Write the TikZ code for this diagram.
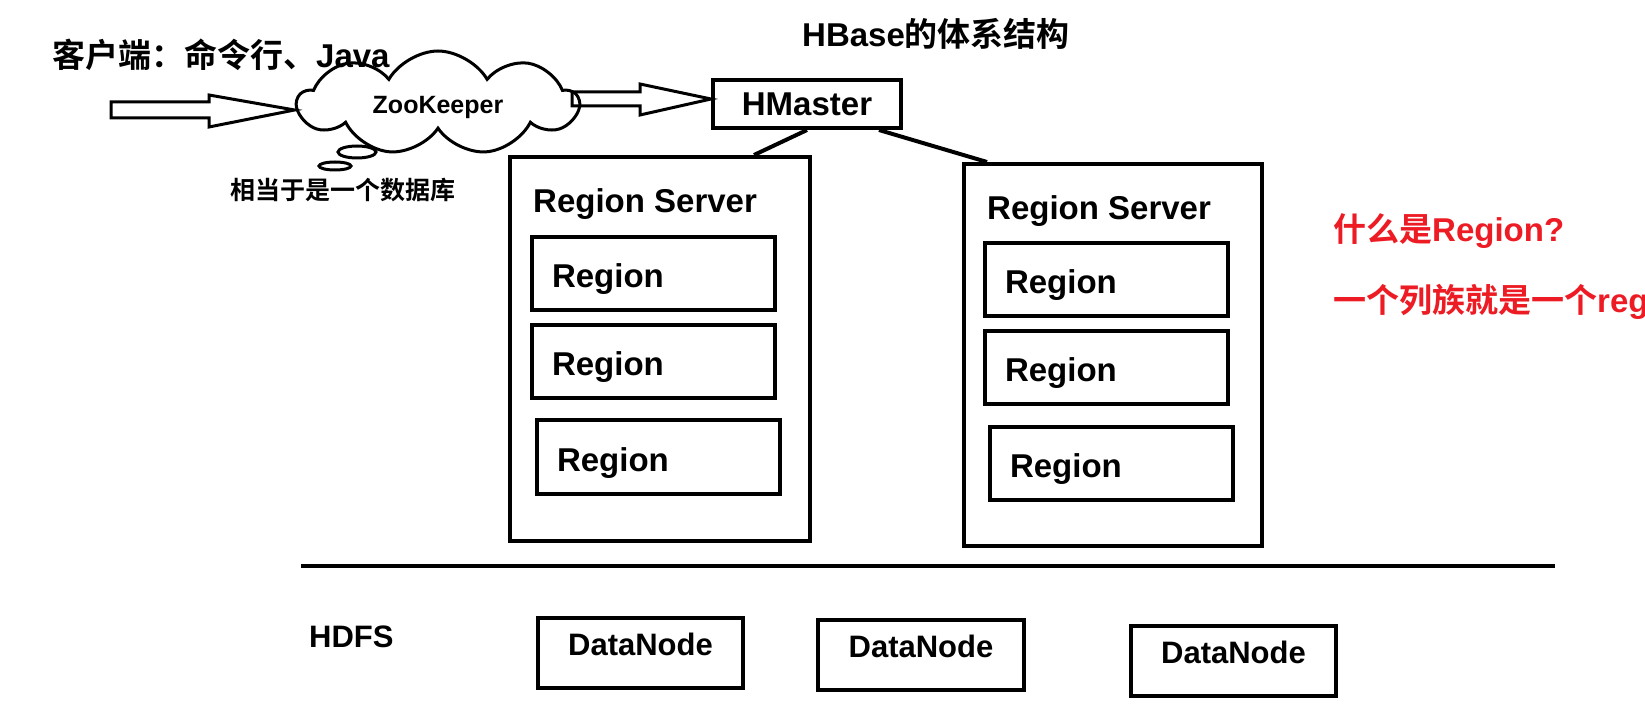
\documentclass[tikz,border=0pt]{standalone}
\usepackage{fontspec}
\setmainfont{Liberation Sans}
\newfontfamily\cjk{Noto Sans CJK SC}[BoldFont={Noto Sans CJK SC Bold}]
\usetikzlibrary{shapes.symbols,calc}
\definecolor{paintred}{RGB}{237,28,36}

\begin{document}
\begin{tikzpicture}[x=1pt,y=-1pt,
  txt/.style={inner sep=0pt,anchor=base west,font=\bfseries\fontsize{33}{33}\selectfont},
  srv/.style={draw,line width=4pt,anchor=north west,inner sep=0pt},
  rgn/.style={draw,line width=4pt,anchor=north west,minimum height=73pt,text width=203pt,inner xsep=20pt,inner ysep=0pt,align=left,text height=30pt,text depth=2pt,font=\bfseries\fontsize{33}{33}\selectfont},
  dn/.style={draw,line width=4pt,anchor=north west,minimum width=205pt,minimum height=70pt,inner sep=0pt,text height=23pt,text depth=19pt,font=\bfseries\fontsize{31}{31}\selectfont},
  hollow/.style={draw,line width=3pt,line join=miter},
  link/.style={line width=4pt}]
  \useasboundingbox (0,0) rectangle (1645,719);
  \clip (0,0) rectangle (1645,719);
  \fill[white] (0,0) rectangle (1645,719);
  \node[txt] (client) at (52,68) {{\cjk 客户端：命令行、}Java};
  \node[txt] (title) at (802,47) {HBase{\cjk 的体系结构}};
  \node[cloud,draw,line width=3pt,cloud puffs=9,cloud puff arc=120,cloud ignores aspect,minimum width=280pt,minimum height=104pt,inner sep=0pt,text height=26pt,text depth=5pt,font=\bfseries\fontsize{25}{25}\selectfont] (zk) at (438,103) {ZooKeeper};
  \draw[line width=3pt] (357,152) ellipse [x radius=19pt, y radius=6pt];
  \draw[line width=3pt] (335,166) ellipse [x radius=16pt, y radius=4pt];
  \node[txt,font=\bfseries\fontsize{25}{25}\selectfont] (zknote) at (230,200) {\cjk 相当于是一个数据库};
  \node[draw,line width=4pt,minimum width=188pt,minimum height=48pt,inner sep=0pt,font=\bfseries\fontsize{33}{33}\selectfont] (hm) at (807,104) {HMaster};
  \coordinate (cli) at (111,110);
  \coordinate (zkout) at (572,99);
  \draw[hollow] ($(cli)+(0,-8)$) -- ++(98,0) -- ++(0,-7) -- (cli -| zk.west) -- ($(cli)+(98,17)$) -- ++(0,-9) -- ($(cli)+(0,8)$) -- cycle;
  \draw[hollow] ($(zkout)+(0,-7)$) -- ++(68,0) -- ++(0,-8) -- (zkout -| hm.west) -- ($(zkout)+(68,16)$) -- ++(0,-9) -- ($(zkout)+(0,7)$) -- cycle;
  \node[srv,minimum width=300pt,minimum height=384pt] (rs1) at (508,155) {};
  \node[srv,minimum width=298pt,minimum height=382pt] (rs2) at (962,162) {};
  \draw[link] (hm.south) -- ([xshift=-58pt]rs1.north east);
  \draw[link] ([xshift=-24pt]hm.south east) -- ([xshift=25pt]rs2.north west);
  \node[txt] (rs1t) at (533,213) {Region Server};
  \node[txt] (rs2t) at (987,220) {Region Server};
  \node[rgn] (r11) at (530,235) {Region};
  \node[rgn] (r12) at (530,323) {Region};
  \node[rgn,minimum height=74pt] (r13) at (535,418) {Region};
  \node[rgn] (r21) at (983,241) {Region};
  \node[rgn] (r22) at (983,329) {Region};
  \node[rgn] (r23) at (988,425) {Region};
  \node[txt,text=paintred] (q1) at (1333,242) {{\cjk 什么是}Region?};
  \node[txt,text=paintred] (q2) at (1333,312) {{\cjk 一个列族就是一个}reg};
  \coordinate (hdfsl) at (301,566);
  \coordinate (hdfsr) at (1555,566);
  \draw[link] (hdfsl) -- (hdfsr);
  \node[txt,font=\bfseries\fontsize{31}{31}\selectfont] (hdfs) at (309,647) {HDFS};
  \node[dn] (dn1) at (536,616) {DataNode};
  \node[dn,minimum width=206pt] (dn2) at (816,618) {DataNode};
  \node[dn] (dn3) at (1129,624) {DataNode};
\end{tikzpicture}
\end{document}
